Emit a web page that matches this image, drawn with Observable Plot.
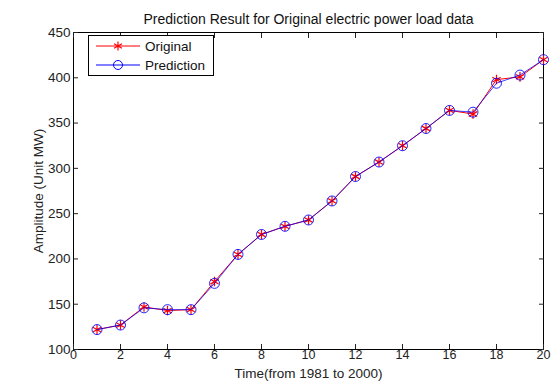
<!DOCTYPE html>
<html>
<head>
<meta charset="utf-8">
<script src="https://cdn.jsdelivr.net/npm/d3@7"></script>
<script src="https://cdn.jsdelivr.net/npm/@observablehq/plot@0.6"></script>
<style>
  html, body { margin: 0; padding: 0; background: #fff; }
  #wrap { position: relative; width: 555px; height: 382px; font-family: "Liberation Sans", Arial, sans-serif; }
  #legend { position: absolute; left: 88px; top: 35px; width: 126px; height: 41px; border: 1px solid #000; background: #fff; font-size: 13.5px; color: #111; box-sizing: border-box; }
  #legend .row { display: flex; align-items: center; height: 18px; margin-top: 1px; padding-left: 7px; }
  #legend svg { margin-right: 5px; }
</style>
</head>
<body>
<div id="wrap"></div>
<script>
const title = "Prediction Result for Original electric power load data";
const xLabel = "Time(from 1981 to 2000)";
const yLabel = "Amplitude (Unit MW)";
const years = [1,2,3,4,5,6,7,8,9,10,11,12,13,14,15,16,17,18,19,20];
const original   = [122,127,147,143,144,175,205,227,236,243,264,291,307,325,344,364,360,398,401,420];
const prediction = [122,127,146,144,144,173,205,227,236,243,264,291,307,325,344,364,362,394,403,420];
const xTicks = [0,2,4,6,8,10,12,14,16,18,20];
const yTicks = [100,150,200,250,300,350,400,450];
const seriesNames = ["Original", "Prediction"];
const seriesColors = ["#ff0000", "#0000ff"];

const orig = years.map((t, i) => ({t, v: original[i]}));
const pred = years.map((t, i) => ({t, v: prediction[i]}));

const chart = Plot.plot({
  width: 555,
  height: 382,
  marginLeft: 73,
  marginRight: 12,
  marginTop: 32,
  marginBottom: 33,
  style: { fontFamily: "Liberation Sans, Arial, sans-serif", fontSize: "13px", color: "#222", background: "#fff" },
  x: { domain: [0, 20] },
  y: { domain: [100, 450] },
  marks: [
    Plot.frame({ stroke: "#000", strokeWidth: 1 }),
    Plot.axisX({ ticks: xTicks, tickSize: -5, tickPadding: 6, fontSize: 12.5, label: null }),
    Plot.axisX({ ticks: [], label: xLabel, labelAnchor: "center", labelArrow: "none", labelOffset: 28, fontSize: 13.5 }),
    Plot.axisX({ anchor: "top", ticks: xTicks, tickSize: -5, tickFormat: () => "", label: null }),
    Plot.axisY({ ticks: yTicks, tickSize: -5, tickPadding: 8, label: yLabel, labelAnchor: "center", labelArrow: "none", labelOffset: 40, fontSize: 13.5 }),
    Plot.axisY({ anchor: "right", ticks: yTicks, tickSize: -5, tickFormat: () => "", label: null }),
    Plot.line(orig, { x: "t", y: "v", stroke: seriesColors[0], strokeWidth: 1 }),
    Plot.dot(orig, { x: "t", y: "v", symbol: "asterisk", r: 4.5, stroke: seriesColors[0], strokeWidth: 1.2 }),
    Plot.line(pred, { x: "t", y: "v", stroke: seriesColors[1], strokeWidth: 1, strokeOpacity: 0.75 }),
    Plot.dot(pred, { x: "t", y: "v", symbol: "circle", r: 5, stroke: seriesColors[1], strokeWidth: 1, fill: "none", strokeOpacity: 0.85 }),
    Plot.text([title], { text: d => d, frameAnchor: "top", dy: -18, fontSize: 14, fill: "#111" })
  ]
});

const wrap = document.getElementById("wrap");
wrap.appendChild(chart);

const legend = document.createElement("div");
legend.id = "legend";
const glyphs = [
  `<svg width="44" height="12"><line x1="0" y1="6" x2="44" y2="6" stroke="${seriesColors[0]}" stroke-width="1"/><path d="M22,1.5V10.5M18.1,3.75L25.9,8.25M18.1,8.25L25.9,3.75" stroke="${seriesColors[0]}" stroke-width="1.2"/></svg>`,
  `<svg width="44" height="12"><line x1="0" y1="6" x2="44" y2="6" stroke="${seriesColors[1]}" stroke-width="1"/><circle cx="22" cy="6" r="4.5" fill="none" stroke="${seriesColors[1]}" stroke-width="1"/></svg>`
];
seriesNames.forEach((name, i) => {
  const row = document.createElement("div");
  row.className = "row";
  row.innerHTML = glyphs[i] + `<span>${name}</span>`;
  legend.appendChild(row);
});
wrap.appendChild(legend);
</script>
</body>
</html>
